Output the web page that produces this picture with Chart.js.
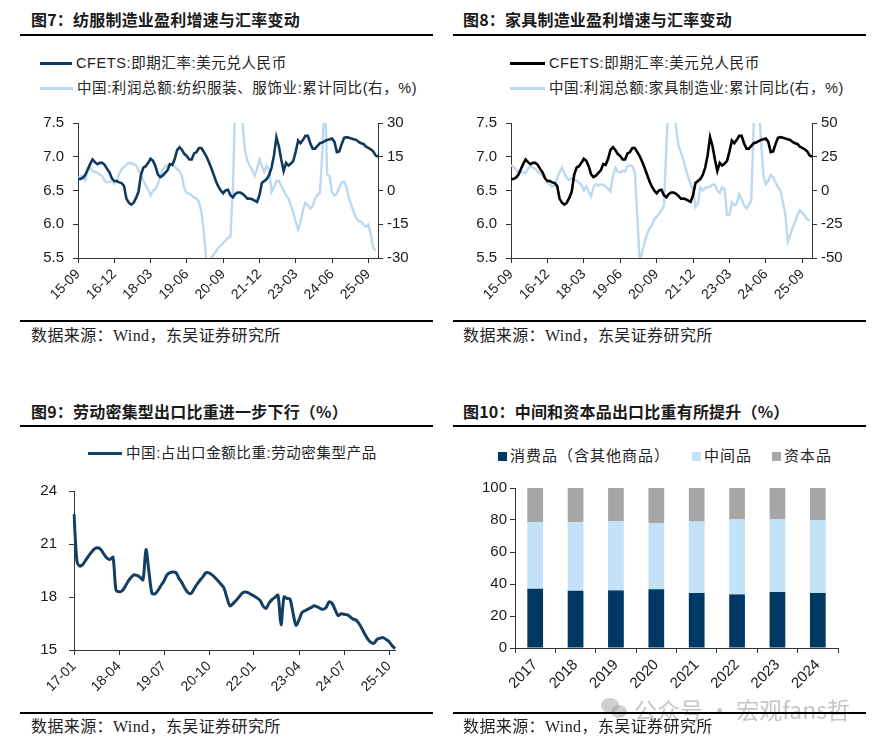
<!DOCTYPE html>
<html>
<head>
<meta charset="utf-8">
<script src="https://cdn.jsdelivr.net/npm/chart.js@4.4.1/dist/chart.umd.min.js"></script>
<style>
html,body{margin:0;padding:0;background:#fff;}
#page{position:relative;width:887px;height:744px;overflow:hidden;background:#fff;font-family:"Liberation Sans","Noto Sans CJK SC",sans-serif;color:#222;}
.t{position:absolute;white-space:nowrap;line-height:20px;height:20px;}
.title{font-family:"Noto Sans CJK SC",sans-serif;font-weight:700;font-size:16px;color:#1a1a1a;letter-spacing:0.2px;}
.rule{position:absolute;height:2px;background:#000;}
.src{font-family:"Liberation Serif","Noto Sans CJK SC",serif;font-size:16px;color:#222;letter-spacing:0.4px;}
.leg{font-size:14.5px;color:#222;letter-spacing:0.6px;}
.mark{position:absolute;}
.cv{position:absolute;}
.wm{position:absolute;font-family:"Noto Sans CJK SC",sans-serif;font-size:23px;color:rgba(150,150,150,0.55);white-space:nowrap;line-height:28px;}
</style>
</head>
<body>
<div id="page">
  <div class="t title" style="left:31px;top:9px;">图7：纺服制造业盈利增速与汇率变动</div>
  <div class="rule" style="left:20px;top:34px;width:413px;"></div>
  <div class="t title" style="left:463px;top:9px;">图8：家具制造业盈利增速与汇率变动</div>
  <div class="rule" style="left:453px;top:34px;width:413px;"></div>

  <div class="cv" style="left:0;top:105px;"><canvas id="c7" width="440" height="215"></canvas></div>
  <div class="cv" style="left:440px;top:105px;"><canvas id="c8" width="447" height="215"></canvas></div>

  <div class="rule" style="left:20px;top:320px;width:413px;"></div>
  <div class="t src" style="left:31px;top:326px;">数据来源：Wind，东吴证券研究所</div>
  <div class="rule" style="left:453px;top:320px;width:413px;"></div>
  <div class="t src" style="left:463px;top:326px;">数据来源：Wind，东吴证券研究所</div>

  <div class="t title" style="left:31px;top:401px;">图9：劳动密集型出口比重进一步下行（%）</div>
  <div class="rule" style="left:20px;top:425px;width:413px;"></div>
  <div class="t title" style="left:463px;top:401px;">图10：中间和资本品出口比重有所提升（%）</div>
  <div class="rule" style="left:453px;top:425px;width:413px;"></div>

  <div class="cv" style="left:0;top:470px;"><canvas id="c9" width="440" height="242"></canvas></div>
  <div class="cv" style="left:440px;top:470px;"><canvas id="c10" width="447" height="242"></canvas></div>

  <div class="mark" style="left:601px;top:698px;width:18px;height:15px;border-radius:50%;background:rgba(160,160,160,0.5);"></div>
  <div class="mark" style="left:611px;top:705px;width:16px;height:13px;border-radius:50%;background:rgba(160,160,160,0.5);"></div>
  <div class="wm" style="left:634px;top:695px;">公众号 · 宏观fans哲</div>

  <div class="rule" style="left:20px;top:712px;width:413px;"></div>
  <div class="t src" style="left:31px;top:717px;">数据来源：Wind，东吴证券研究所</div>
  <div class="rule" style="left:453px;top:712px;width:413px;"></div>
  <div class="t src" style="left:463px;top:717px;">数据来源：Wind，东吴证券研究所</div>
</div>

<script>
// 月份标签 YY-MM
function monthRange(y0, m0, y1, m1){
  const out=[];
  let y=y0, m=m0;
  while(y<y1 || (y===y1 && m<=m1)){
    out.push(String(y%100).padStart(2,'0')+'-'+String(m).padStart(2,'0'));
    m++; if(m>12){ m=1; y++; }
  }
  return out;
}

// ---- 图7 / 图8 ----
const fxMonths = monthRange(2015, 9, 2026, 1);
const fxTicks  = ['15-09','16-12','18-03','19-06','20-09','21-12','23-03','24-06','25-09'];
const fxName   = 'CFETS:即期汇率:美元兑人民币';

const fxRate = [
  6.67,6.67,6.69,6.73,6.81,6.89,6.96,6.92,6.89,6.91,
  6.91,6.88,6.82,6.77,6.68,6.64,6.64,6.62,6.61,6.57,
  6.38,6.32,6.29,6.32,6.39,6.48,6.73,6.84,6.86,6.91,
  6.97,6.94,6.86,6.74,6.70,6.72,6.76,6.80,6.89,6.88,
  6.97,7.10,7.14,7.10,7.04,7.01,6.96,6.96,7.05,7.07,
  7.13,7.13,7.07,7.01,6.93,6.84,6.74,6.64,6.56,6.50,
  6.46,6.50,6.51,6.43,6.40,6.45,6.47,6.47,6.45,6.42,
  6.38,6.38,6.37,6.35,6.33,6.43,6.61,6.64,6.67,6.73,
  6.84,7.02,7.29,7.16,6.96,6.79,6.91,6.87,6.90,6.94,
  7.08,7.24,7.20,7.25,7.31,7.31,7.20,7.12,7.12,7.16,
  7.20,7.21,7.23,7.25,7.26,7.27,7.22,7.07,7.08,7.19,
  7.28,7.29,7.28,7.27,7.26,7.25,7.22,7.20,7.19,7.15,
  7.13,7.11,7.08,7.02,7.00
];

const textileName = '中国:利润总额:纺织服装、服饰业:累计同比(右，%)';
const textileProfit = [
  5.1,6.4,5.9,4.6,8.7,10.1,8.7,8.3,8.0,7.1,
  6.4,4.3,3.6,3.8,4.2,3.0,3.9,7.2,9.4,10.4,
  11.6,12.3,12.0,11.7,11.3,8.8,7.2,4.3,2.2,0.4,
  -2.2,0.0,0.6,2.9,6.5,9.1,10.6,11.3,11.6,11.7,
  10.6,9.4,8.7,6.2,0.7,-1.2,-1.4,-2.2,-3.2,-3.6,
  -5.1,-9.4,-17.8,-31.2,-31.2,-30,-28.6,-27.1,-25.4,-24.6,
  -23.3,-22.2,-21,-20.7,0.0,40,60,50,30,18.1,
  13.2,10.9,9.1,6.5,9.4,13.8,10.9,8.3,10.9,9.4,
  -0.7,1.4,4.1,4.3,2.2,0.0,-2.2,-3.6,-6.5,-9.7,
  -14.1,-17.4,-13.8,-8.7,-5.4,-6.5,-8.0,-6.8,-3.6,-1.9,
  -1.0,16.7,45,7.2,6.2,-0.7,-2.2,-1.4,1.4,3.6,
  3.9,1.4,-3.3,-6.5,-9.7,-12.3,-13.5,-13.8,-15.2,-16.1,
  -15.2,-19.6,-25.4,-26.8,null
];

const furnitureName = '中国:利润总额:家具制造业:累计同比(右，%)';
const furnitureProfit = [
  18.6,17.6,15.7,13.3,12.8,13.8,12.8,16.2,18.1,16.9,
  16.2,13.8,12.6,11.6,9.7,6.5,4.3,2.9,3.6,9.2,
  13.3,16.9,12.8,9.4,7.7,8.9,8.0,7.2,6.0,4.3,
  0.0,3.1,-0.7,-4.3,2.4,4.8,3.6,4.6,4.1,2.9,
  1.2,-0.7,10.9,16.9,14.0,13.3,14.5,14.0,18.1,18.6,
  18.1,13.3,-18.1,-52,-45.9,-38.6,-32.6,-28.3,-26.1,-21.5,
  -19.3,-17.4,-14.5,-11.4,32.6,70,80,65,46.4,33.1,
  28.3,22.9,15.7,9.7,4.8,0.0,-12.1,-9.7,2.4,0.0,
  1.9,2.4,2.9,4.3,4.3,0.0,-1.7,2.4,1.2,-18.1,
  -18.1,-8.9,-10.9,-9.7,-2.7,-6.5,-10.9,-13.3,-10.4,-7.5,
  50,75,65,37,10.9,4.8,7.2,11.4,9.7,6.0,
  2.4,0.0,-8.9,-16.9,-38,-33,-27.8,-23.4,-18.1,-14.5,
  -16.4,-18.6,-21.0,-22.5,null
];

// ---- 图9 ----
const laborMonths = monthRange(2017, 1, 2025, 12);
const laborTicks  = ['17-01','18-04','19-07','20-10','22-01','23-04','24-07','25-10'];
const laborName   = '中国:占出口金额比重:劳动密集型产品';
const laborShare = [
  22.69,20.0,19.75,19.85,20.12,20.35,20.58,20.74,20.79,20.68,
  20.42,20.2,20.12,20.25,18.4,18.3,18.35,18.57,18.88,19.1,
  19.26,19.22,19.12,18.97,20.68,19.4,18.2,18.18,18.37,18.65,
  18.9,19.25,19.38,19.42,19.38,19.05,18.8,18.48,18.25,18.2,
  18.45,18.72,18.95,19.15,19.38,19.36,19.25,19.1,18.92,18.72,
  18.5,17.95,17.5,17.62,17.8,18.0,18.2,18.28,18.25,18.15,
  18.06,17.95,17.82,17.5,17.35,17.65,17.85,17.98,18.1,16.42,
  18.0,17.92,17.88,17.1,16.4,16.7,17.12,17.22,17.31,17.4,
  17.5,17.45,17.36,17.3,17.4,17.72,17.65,17.3,16.95,17.05,
  17.02,17.0,16.88,16.75,16.7,16.5,16.2,15.88,15.6,15.42,
  15.38,15.6,15.67,15.7,15.6,15.48,15.25,15.08
];

// ---- 图10 ----
const years        = ['2017','2018','2019','2020','2021','2022','2023','2024'];
const consumerName = '消费品（含其他商品）';
const interName    = '中间品';
const capitalName  = '资本品';
const consumer     = [37.1,35.8,36.0,36.7,34.4,33.5,35.0,34.4];
const intermediate = [41.7,43.0,43.2,41.4,44.6,47.1,45.6,45.6];
const capital      = [21.2,21.2,20.8,21.9,21.0,19.4,19.4,20.0];

Chart.defaults.font.family = "'Liberation Sans', Arial, sans-serif";
Chart.defaults.color = '#1a1a1a';
Chart.defaults.animation = false;

const AXIS = '#333';
const page = document.getElementById('page');

// 图例 (HTML)
function legendLine(x, y, color, text, w){
  const s = document.createElement('div');
  s.className='mark';
  s.style.cssText=`left:${x}px;top:${y-1.5}px;width:${w}px;height:3px;background:${color};`;
  page.appendChild(s);
  const t = document.createElement('div');
  t.className='t leg';
  t.style.cssText=`left:${x+w+4}px;top:${y-10}px;`;
  t.textContent=text;
  page.appendChild(t);
}
function legendBox(x, y, color, text){
  const s = document.createElement('div');
  s.className='mark';
  s.style.cssText=`left:${x}px;top:${y-4.5}px;width:9px;height:9px;background:${color};`;
  page.appendChild(s);
  const t = document.createElement('div');
  t.className='t leg';
  t.style.cssText=`left:${x+12}px;top:${y-10}px;font-size:15px;letter-spacing:1px;`;
  t.textContent=text;
  page.appendChild(t);
}

function monthAxis(labels, ticks, h){
  return {
    type:'category',
    offset:false,
    grid:{ drawOnChartArea:false, tickLength:5,
      tickColor: ctx => ticks.includes(labels[ctx.index]) ? AXIS : 'rgba(0,0,0,0)' },
    border:{ color:AXIS, width:1 },
    ticks:{ autoSkip:false, maxRotation:45, minRotation:45, padding:3,
      font:{ size:14 }, color:'#1a1a1a',
      callback:(v,i)=> ticks.includes(labels[i]) ? labels[i] : '' },
    afterFit: s=>{ s.height=h; }
  };
}

function valueAxis(pos, min, max, step, w, fmt, pad){
  return {
    position:pos, min, max,
    grid:{ drawOnChartArea:false, tickLength:5, color:AXIS },
    border:{ color:AXIS, width:1 },
    ticks:{ stepSize:step, font:{ size:15 }, color:'#1a1a1a', padding:pad,
      callback: v=> fmt ? v.toFixed(1) : v },
    afterFit: s=>{ s.width=w; }
  };
}

function fxChart(id, profit, profitName, fxColor, profitColor, rMin, rMax, rStep, leftW, rightPad){
  return new Chart(document.getElementById(id), {
    type:'line',
    data:{
      labels: fxMonths,
      datasets:[
        { label:fxName, data:fxRate, yAxisID:'y', borderColor:fxColor, borderWidth:2.6,
          pointRadius:0, tension:0, order:1 },
        { label:profitName, data:profit, yAxisID:'y1', borderColor:profitColor, borderWidth:2.4,
          pointRadius:0, tension:0, order:2 }
      ]
    },
    options:{
      responsive:false,
      layout:{ padding:{ top:14, right:rightPad, left:0, bottom:0 } },
      plugins:{ legend:{ display:false }, tooltip:{ enabled:false } },
      scales:{
        x: monthAxis(fxMonths, fxTicks, 62),
        y: valueAxis('left', 5.5, 7.5, 0.5, leftW, true, 9),
        y1: valueAxis('right', rMin, rMax, rStep, 40, false, 4)
      }
    }
  });
}

// 图7
fxChart('c7', textileProfit, textileName, '#0f3a5f', '#bcd9f1', -30, 30, 15, 78, 22);
legendLine(40, 63, '#0f3a5f', fxName, 32);
legendLine(40, 88, '#bcd9f1', textileName, 33);

// 图8
fxChart('c8', furnitureProfit, furnitureName, '#000000', '#bcd9f1', -50, 50, 25, 71, 35);
legendLine(510, 63, '#000000', fxName, 35);
legendLine(510, 88, '#bcd9f1', furnitureName, 35);

// 图9
new Chart(document.getElementById('c9'), {
  type:'line',
  data:{
    labels: laborMonths,
    datasets:[{ label:laborName, data:laborShare, borderColor:'#143f64', borderWidth:3,
      pointRadius:0, tension:0.3 }]
  },
  options:{
    responsive:false,
    layout:{ padding:{ top:13, right:45, left:0, bottom:0 } },
    plugins:{ legend:{ display:false }, tooltip:{ enabled:false } },
    scales:{
      x: monthAxis(laborMonths, laborTicks, 62),
      y: valueAxis('left', 15, 24, 3, 74, false, 12)
    }
  }
});
legendLine(88, 453, '#143f64', laborName, 34);

// 图10
new Chart(document.getElementById('c10'), {
  type:'bar',
  data:{
    labels: years,
    datasets:[
      { label:consumerName, data:consumer,     backgroundColor:'#003864' },
      { label:interName,    data:intermediate, backgroundColor:'#c4e2f7' },
      { label:capitalName,  data:capital,      backgroundColor:'#a6a6a6' }
    ]
  },
  options:{
    responsive:false,
    layout:{ padding:{ top:18, right:49, left:0, bottom:0 } },
    datasets:{ bar:{ barPercentage:0.39, categoryPercentage:1.0 } },
    plugins:{ legend:{ display:false }, tooltip:{ enabled:false } },
    scales:{
      x:{
        stacked:true,
        grid:{ drawOnChartArea:false, tickLength:5, color:AXIS },
        border:{ color:AXIS, width:1 },
        ticks:{ maxRotation:45, minRotation:45, padding:3, font:{ size:15 }, color:'#1a1a1a' },
        afterFit: s=>{ s.height=64; }
      },
      y: Object.assign(valueAxis('left', 0, 100, 20, 75, false, 3), { stacked:true })
    }
  }
});
legendBox(498, 456, '#003864', consumerName);
legendBox(692, 456, '#c4e2f7', interName);
legendBox(772, 456, '#a6a6a6', capitalName);
</script>
</body>
</html>
